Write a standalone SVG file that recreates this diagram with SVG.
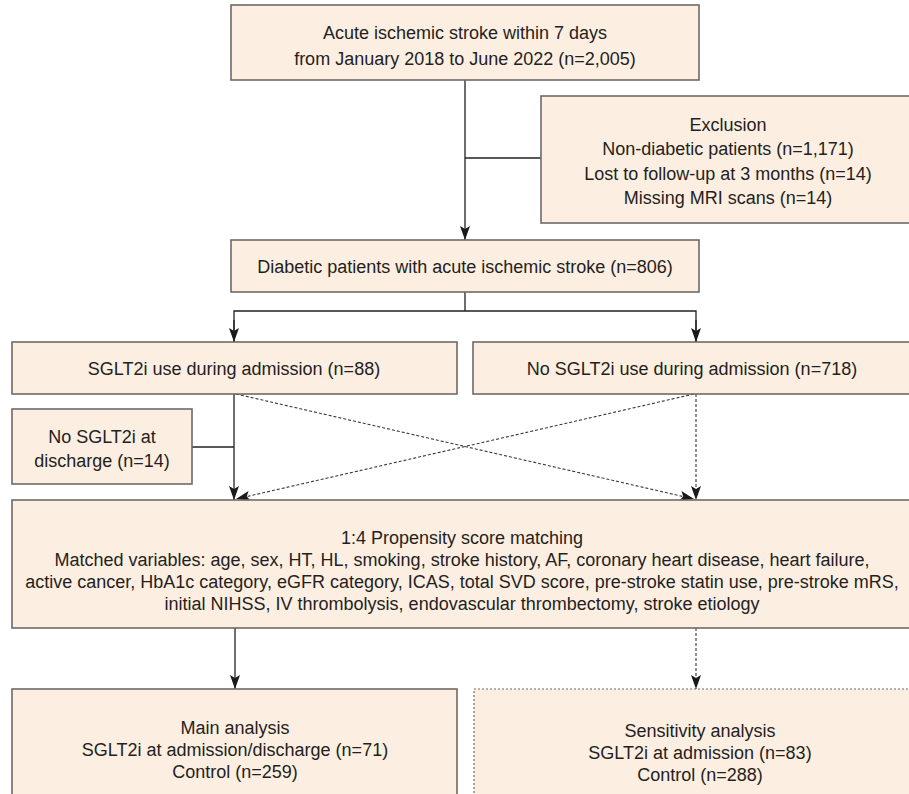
<svg xmlns="http://www.w3.org/2000/svg" width="909" height="794" viewBox="0 0 909 794">
<style>
.box{fill:#fdeee2;stroke:#6f6a67;stroke-width:1.6}
.dotbox{fill:#fdeee2;stroke:#6f6a67;stroke-width:1.2;stroke-dasharray:2 2}
text{font-family:"Liberation Sans",Arial,sans-serif;font-size:18px;fill:#231f20;text-anchor:middle}
.ln{fill:none;stroke:#231f20;stroke-width:1.3}
.dl{fill:none;stroke:#3a3a3a;stroke-width:1.1;stroke-dasharray:3 2}
</style>
<defs>
<marker id="ah" markerUnits="userSpaceOnUse" markerWidth="14" markerHeight="10" refX="14" refY="5" orient="auto" viewBox="0 0 14 10">
<path d="M0,0 L14,5 L0,10 L3,5 z" fill="#1a1a1a"/>
</marker>
</defs>
<rect width="909" height="794" fill="#ffffff"/>
<g id="connectors">
<line class="ln" x1="465" y1="80" x2="465" y2="240" marker-end="url(#ah)"/>
<line class="ln" x1="465" y1="158" x2="541" y2="158"/>
<polyline class="ln" points="465,292 465,311"/>
<polyline class="ln" points="234,342 234,311 696,311 696,342"/>
<line class="ln" x1="234" y1="320" x2="234" y2="342" marker-end="url(#ah)"/>
<line class="ln" x1="696" y1="320" x2="696" y2="342" marker-end="url(#ah)"/>
<line class="ln" x1="234" y1="394" x2="234" y2="500" marker-end="url(#ah)"/>
<line class="ln" x1="192" y1="447" x2="234" y2="447"/>
<line class="dl" x1="696" y1="394" x2="696" y2="500" marker-end="url(#ah)"/>
<line class="dl" x1="236" y1="394" x2="694" y2="499" marker-end="url(#ah)"/>
<line class="dl" x1="694" y1="394" x2="236" y2="499" marker-end="url(#ah)"/>
<line class="ln" x1="235" y1="628" x2="235" y2="689" marker-end="url(#ah)"/>
<line class="dl" x1="696" y1="628" x2="696" y2="689" marker-end="url(#ah)"/>
</g>
<g id="n-top">
<rect class="box" x="231" y="5" width="468" height="75"/>
<text x="465" y="39">Acute ischemic stroke within 7 days</text>
<text x="465" y="65">from January 2018 to June 2022 (n=2,005)</text>
</g>
<g id="n-exclusion">
<rect class="box" x="541" y="96" width="380" height="127"/>
<text x="728" y="131">Exclusion</text>
<text x="728" y="155">Non-diabetic patients (n=1,171)</text>
<text x="728" y="180">Lost to follow-up at 3 months (n=14)</text>
<text x="728" y="204">Missing MRI scans (n=14)</text>
</g>
<g id="n-diabetic">
<rect class="box" x="231" y="240" width="468" height="52"/>
<text x="465" y="273">Diabetic patients with acute ischemic stroke (n=806)</text>
</g>
<g id="n-sglt2i">
<rect class="box" x="12" y="342" width="445" height="52"/>
<text x="234" y="375">SGLT2i use during admission (n=88)</text>
</g>
<g id="n-nosglt2i">
<rect class="box" x="473" y="342" width="448" height="52"/>
<text x="692" y="375">No SGLT2i use during admission (n=718)</text>
</g>
<g id="n-discharge">
<rect class="box" x="12" y="409" width="180" height="75"/>
<text x="102" y="443">No SGLT2i at</text>
<text x="102" y="467">discharge (n=14)</text>
</g>
<g id="n-psm">
<rect class="box" x="12" y="500" width="909" height="128"/>
<text x="462" y="544">1:4 Propensity score matching</text>
<text x="462" y="566">Matched variables: age, sex, HT, HL, smoking, stroke history, AF, coronary heart disease, heart failure,</text>
<text x="462" y="588">active cancer, HbA1c category, eGFR category, ICAS, total SVD score, pre-stroke statin use, pre-stroke mRS,</text>
<text x="462" y="610">initial NIHSS, IV thrombolysis, endovascular thrombectomy, stroke etiology</text>
</g>
<g id="n-main">
<rect class="box" x="12" y="689" width="445" height="120"/>
<text x="235" y="734">Main analysis</text>
<text x="235" y="756">SGLT2i at admission/discharge (n=71)</text>
<text x="235" y="778">Control (n=259)</text>
</g>
<g id="n-sensitivity">
<rect class="dotbox" x="474" y="689" width="450" height="120"/>
<text x="700" y="737">Sensitivity analysis</text>
<text x="700" y="759">SGLT2i at admission (n=83)</text>
<text x="700" y="781">Control (n=288)</text>
</g>
</svg>
